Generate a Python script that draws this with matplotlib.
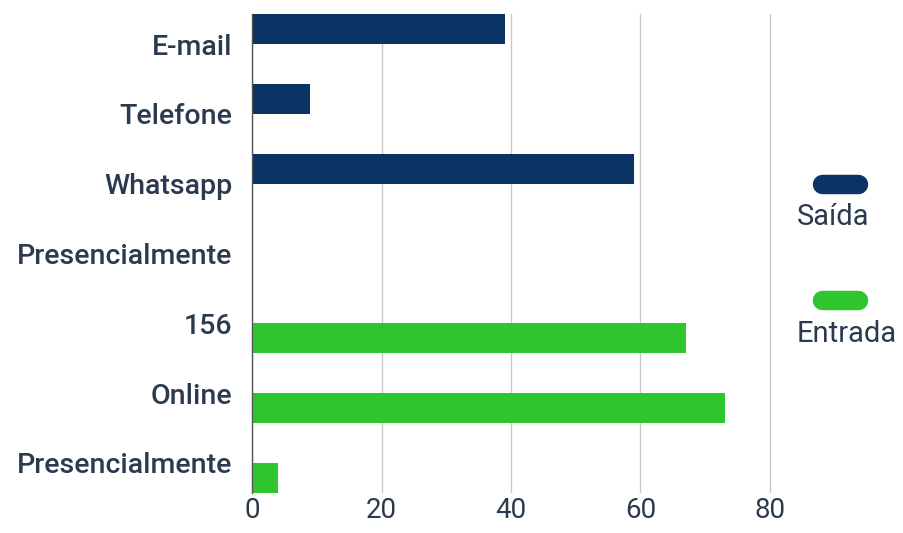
import numpy as np
import matplotlib.pyplot as plt
from matplotlib.lines import Line2D

plt.rcParams['font.family'] = ['Roboto', 'DejaVu Sans']

categorias = ['E-mail', 'Telefone', 'Whatsapp', 'Presencialmente',
              '156', 'Online', 'Presencialmente']
saida = [39, 9, 59, 0, 0, 0, 0]
entrada = [0, 0, 0, 0, 67, 73, 4]
series = ['Saída', 'Entrada']
ticks_x = [0, 20, 40, 60, 80]

azul = '#0b3363'
verde = '#2ec52e'
texto = '#2b3a4f'

fig = plt.figure(figsize=(9.04, 5.33), dpi=100)
ax = fig.add_axes([0.2788, 0.075, 0.6087, 0.8987])

y = np.arange(len(categorias))
h = 0.43
ax.barh(y - h / 2, saida, height=h, color=azul)
ax.barh(y + h / 2, entrada, height=h, color=verde)

ax.set_ylim(len(categorias) - 1 + h, -h)
ax.set_xlim(0, 85)
ax.set_yticks(y)
ax.set_yticklabels(categorias, fontsize=20.5, fontweight='medium', color=texto)
ax.set_xticks(ticks_x)
ax.set_xticklabels([str(t) for t in ticks_x], fontsize=20, color=texto)
ax.tick_params(length=0)
ax.tick_params(axis='y', pad=14)
ax.tick_params(axis='x', pad=3)

for s in ['top', 'right', 'bottom']:
    ax.spines[s].set_visible(False)
ax.spines['left'].set_color('#555555')
ax.spines['left'].set_linewidth(1)
ax.grid(axis='x', color='#c8c8c8', linewidth=1)
ax.set_axisbelow(True)

# legenda com marcador em pílula e rótulo embaixo
W, H = fig.get_size_inches() * fig.dpi
for nome, cor, ym, yt in [(series[0], azul, 184, 217), (series[1], verde, 300, 334)]:
    fig.add_artist(Line2D([822 / W, 858 / W], [1 - ym / H, 1 - ym / H],
                          transform=fig.transFigure, color=cor, lw=14,
                          solid_capstyle='round'))
    fig.text(797 / W, 1 - yt / H, nome, ha='left', va='center',
             fontsize=21, color=texto)

fig.savefig('out.png', dpi=100, facecolor='white')
